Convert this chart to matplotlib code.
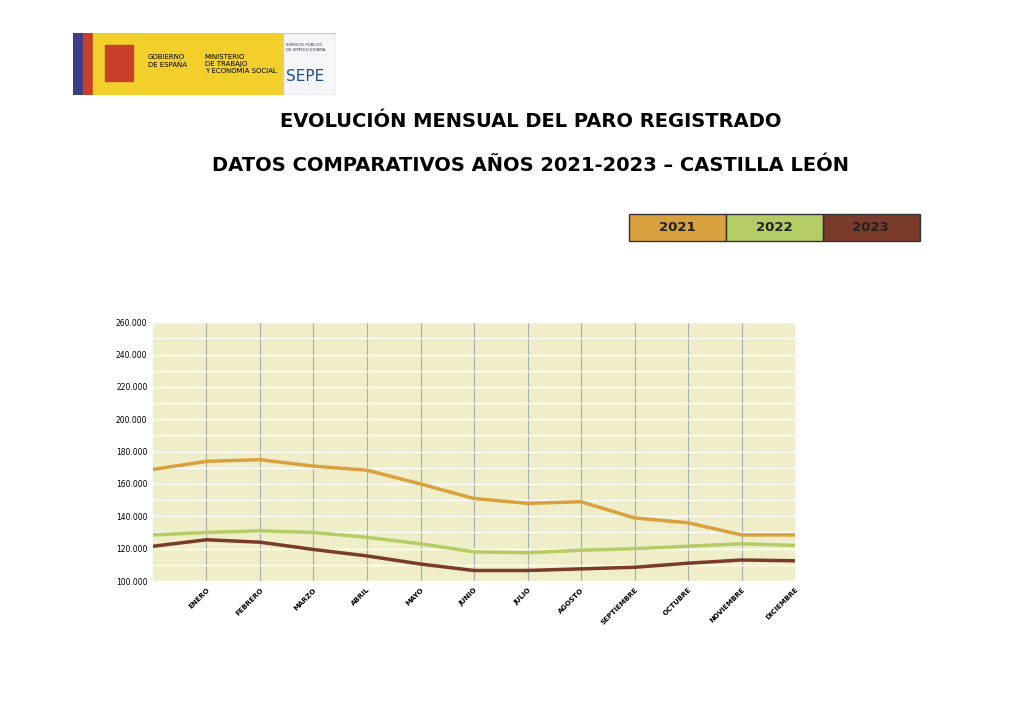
import matplotlib
matplotlib.use("Agg")
import matplotlib.pyplot as plt
from matplotlib.patches import Rectangle

months = ["", "ENERO", "FEBRERO", "MARZO", "ABRIL", "MAYO", "JUNIO", "JULIO", "AGOSTO",
          "SEPTIEMBRE", "OCTUBRE", "NOVIEMBRE", "DICIEMBRE"]
v2021 = [169000, 174000, 175000, 171000, 168500, 160000, 151000, 148000, 149000, 139000, 136000, 128500, 128500]
v2022 = [128500, 130000, 131000, 130000, 127000, 123000, 118000, 117500, 119000, 120000, 121500, 123000, 122000]
v2023 = [121500, 125500, 124000, 119500, 115500, 110500, 106500, 106500, 107500, 108500, 111000, 113000, 112500]
years = ["2021", "2022", "2023"]
colors = ["#d9a13e", "#b3cc66", "#7b3b2b"]

fig = plt.figure(figsize=(10.24, 7.24), dpi=100)
fig.patch.set_facecolor("white")

# Title
fig.text(0.518, 0.832, "EVOLUCIÓN MENSUAL DEL PARO REGISTRADO", ha="center", va="center",
         fontsize=14, fontweight="bold", family="DejaVu Sans")
fig.text(0.518, 0.772, "DATOS COMPARATIVOS AÑOS 2021-2023 – CASTILLA LEÓN", ha="center", va="center",
         fontsize=14, fontweight="bold", family="DejaVu Sans")

# Logo
la = fig.add_axes([0.071, 0.869, 0.257, 0.085])
la.set_xlim(0, 263); la.set_ylim(0, 62); la.axis("off")
la.add_patch(Rectangle((0, 0), 10, 62, color="#3b3f8a"))
la.add_patch(Rectangle((10, 0), 10, 62, color="#c8402a"))
la.add_patch(Rectangle((20, 0), 190, 62, color="#f2cf2b"))
la.add_patch(Rectangle((210, 0), 53, 62, color="#f4f6fa", ec="#cccccc"))
la.text(75, 34, "GOBIERNO\nDE ESPAÑA", fontsize=5, va="center")
la.text(132, 31, "MINISTERIO\nDE TRABAJO\nY ECONOMÍA SOCIAL", fontsize=5, va="center")
la.text(213, 48, "SERVICIO PÚBLICO\nDE EMPLEO ESTATAL", fontsize=2.8, va="center", color="#334")
la.text(213, 18, "SEPE", fontsize=11, va="center", color="#1f4e8c")
la.add_patch(Rectangle((32, 14), 28, 36, color="#c8402a"))

# Legend boxes
for i, (y, c) in enumerate(zip(years, colors)):
    x0 = 0.614 + i * 0.0947
    fig.patches.append(Rectangle((x0, 0.667), 0.0947, 0.038, transform=fig.transFigure,
                                 facecolor=c, edgecolor="#333333", lw=1))
    fig.text(x0 + 0.047, 0.686, y, ha="center", va="center", fontsize=9.5, fontweight="bold", color="#222")

ax = fig.add_axes([0.1494, 0.1975, 0.627, 0.3575])
ax.set_facecolor("#efeec9")
x = list(range(len(months)))
for vals, c in zip([v2021, v2022, v2023], colors):
    ax.plot(x, vals, color=c, lw=2.5)
ax.set_xlim(0, 12)
ax.set_ylim(100000, 260000)
ax.set_yticks(range(100000, 260001, 20000))
ax.set_yticklabels([f"{v//1000}.000" for v in range(100000, 260001, 20000)], fontsize=5.5)
ax.set_yticks(range(110000, 260000, 20000), minor=True)
ax.set_xticks(x[1:])
ax.set_xticklabels(months[1:], rotation=45, ha="right", rotation_mode="anchor", fontsize=5, fontweight="bold")
ax.grid(axis="y", which="both", color="white", lw=1)
ax.grid(axis="x", color="#aaaaaa", lw=0.8)
ax.tick_params(which="both", length=0, pad=4)
for s in ax.spines.values():
    s.set_visible(False)
ax.set_axisbelow(True)

fig.savefig("out.png", dpi=100)
